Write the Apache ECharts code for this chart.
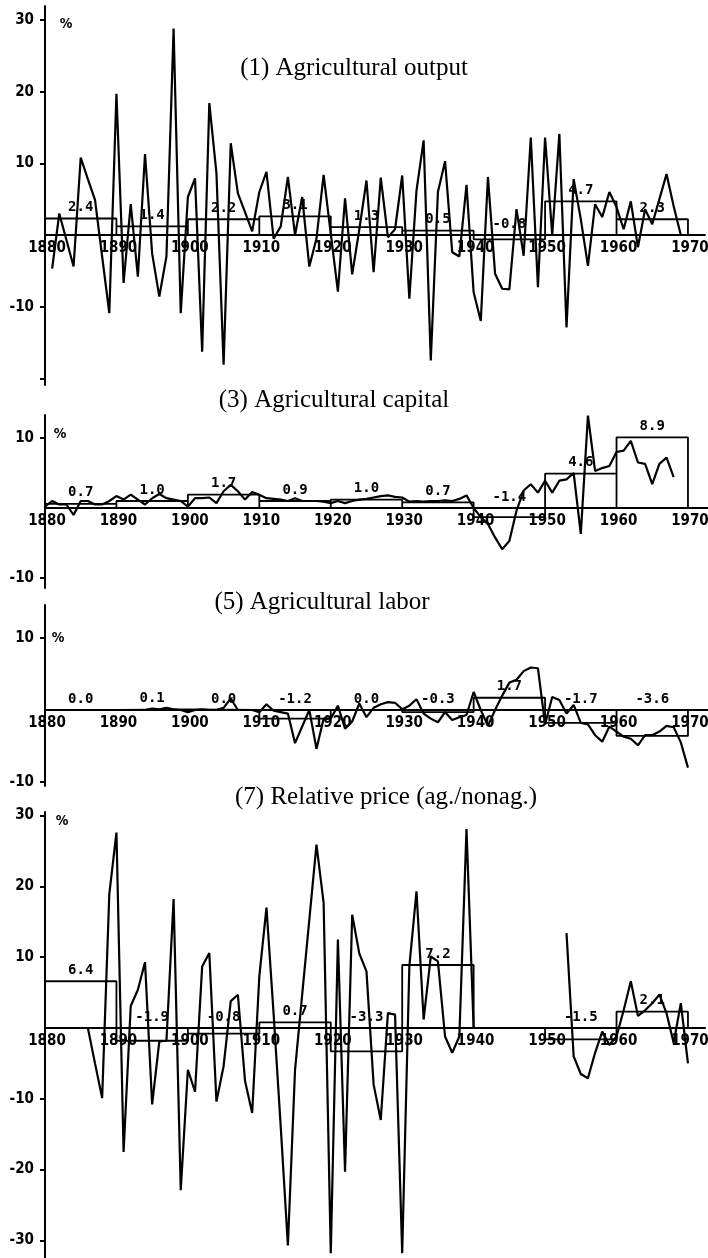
<!DOCTYPE html>
<html>
<head>
<meta charset="utf-8">
<script src="https://cdn.jsdelivr.net/npm/echarts@6/dist/echarts.min.js"></script>
<style>
  html, body { margin: 0; padding: 0; background: #fff; }
  #chart { width: 708px; height: 1258px; }
</style>
</head>
<body>
<div id="chart"></div>
<script>
// ---------------- DATA ----------------
const panelTitles = ['(1) Agricultural output', '(3) Agricultural capital', '(5) Agricultural labor', '(7) Relative price (ag./nonag.)'];
const xTickLabels = [1880, 1890, 1900, 1910, 1920, 1930, 1940, 1950, 1960, 1970];
const decadeStarts = [1880, 1890, 1900, 1910, 1920, 1930, 1940, 1950, 1960];

// (1) Agricultural output, annual growth rate %, from 1881
const outputStart = 1881;
const outputValues = [
  -4.7, 3.0, -0.7, -4.4, 10.8, 7.8, 4.9, -3.0, -10.9,          // 1881-1889
  19.7, -6.7, 4.3, -5.8, 11.3, -2.6, -8.6, -3.0, 28.8, -10.9,  // 1890-1899
  5.3, 7.9, -16.3, 18.4, 8.6, -18.1, 12.8, 5.8, 3.2, 0.5,      // 1900-1909
  6.0, 8.8, -0.5, 1.2, 8.1, 0.0, 5.3, -4.4, -0.5, 8.4,         // 1910-1919
  0.2, -7.9, 5.1, -5.5, 0.8, 7.6, -5.2, 8.0, -0.3, 0.8,        // 1920-1929
  8.3, -8.9, 6.2, 13.2, -17.5, 6.0, 10.3, -2.4, -3.0, 7.0,     // 1930-1939
  -8.0, -12.0, 8.1, -5.4, -7.5, -7.6, 3.6, -2.9, 13.6, -7.3,   // 1940-1949
  13.6, 0.0, 14.1, -12.9, 7.8, 2.2, -4.3, 4.3, 2.5, 6.0,       // 1950-1959
  3.9, 0.8, 4.7, -1.7, 3.6, 1.5, 5.0, 8.5, 4.0, 0.0            // 1960-1969
];
const outputBoxHeights = [2.3, 1.2, 2.2, 2.6, 1.1, 0.6, -0.6, 4.7, 2.2];
const outputBoxLabels = ['2.4', '1.4', '2.2', '3.1', '1.3', '0.5', '-0.8', '4.7', '2.3'];
const outputYTicks = [-20, -10, 10, 20, 30];
const outputYLabels = [-10, 10, 20, 30];

// (3) Agricultural capital, from 1880
const capitalStart = 1880;
const capitalValues = [
  0.2, 1.0, 0.5, 0.5, -1.0, 1.0, 1.0, 0.5, 0.5, 1.0,           // 1880-1889
  1.7, 1.2, 1.9, 1.2, 0.5, 1.4, 2.0, 1.4, 1.2, 1.0,            // 1890-1899
  0.2, 1.4, 1.4, 1.5, 0.7, 2.4, 3.3, 2.4, 1.2, 2.3,            // 1900-1909
  1.9, 1.4, 1.3, 1.2, 1.0, 1.4, 1.0, 1.0, 1.0, 0.9,            // 1910-1919
  0.7, 1.0, 0.7, 1.0, 1.2, 1.3, 1.5, 1.7, 1.8, 1.6,            // 1920-1929
  1.5, 0.9, 1.0, 0.9, 1.0, 1.0, 1.1, 1.0, 1.3, 1.8,            // 1930-1939
  0.0, -1.3, -2.3, -4.2, -5.9, -4.7, -0.4, 2.5, 3.4, 2.2,      // 1940-1949
  3.9, 2.2, 3.9, 4.1, 5.0, -3.7, 13.2, 5.3, 5.7, 6.0,          // 1950-1959
  8.0, 8.2, 9.6, 6.5, 6.3, 3.4, 6.3, 7.2, 4.4                  // 1960-1968
];
const capitalBoxHeights = [0.6, 1.0, 1.9, 1.0, 1.2, 0.8, -1.3, 4.9, 10.1];
const capitalBoxLabels = ['0.7', '1.0', '1.7', '0.9', '1.0', '0.7', '-1.4', '4.6', '8.9'];
const capitalYTicks = [-10, 10];
const capitalYLabels = [-10, 10];

// (5) Agricultural labor, from 1880
const laborStart = 1880;
const laborValues = [
  0.0, 0.0, 0.0, 0.0, 0.0, 0.0, 0.0, 0.0, 0.0, 0.0,            // 1880-1889
  0.0, 0.0, 0.0, 0.0, 0.0, 0.2, 0.1, 0.3, 0.1, 0.0,            // 1890-1899
  -0.3, 0.0, 0.1, 0.0, 0.0, 0.3, 1.6, 0.0, 0.0, 0.0,           // 1900-1909
  -0.3, 0.8, -0.1, -0.3, -0.5, -4.6, -2.3, 0.0, -5.4, -1.2,    // 1910-1919
  -1.2, 0.6, -2.6, -1.6, 0.9, -1.0, 0.3, 0.8, 1.1, 1.0,        // 1920-1929
  0.1, 0.6, 1.5, -0.5, -1.2, -1.7, -0.3, -1.4, -1.0, -0.7,     // 1930-1939
  2.5, 0.0, -2.2, 0.0, 2.0, 3.8, 4.2, 5.4, 5.9, 5.8,           // 1940-1949
  -2.0, 1.8, 1.4, -0.5, 0.7, -1.8, -2.0, -3.5, -4.4, -2.3,     // 1950-1959
  -3.0, -3.7, -4.0, -4.9, -3.5, -3.5, -3.0, -2.2, -2.4, -4.5,  // 1960-1969
  -8.0                                                          // 1970
];
const laborBoxHeights = [0.0, 0.1, 0.0, -1.2, 0.0, -0.3, 1.7, -1.8, -3.6];
const laborBoxLabels = ['0.0', '0.1', '0.0', '-1.2', '0.0', '-0.3', '1.7', '-1.7', '-3.6'];
const laborYTicks = [-10, 10];
const laborYLabels = [-10, 10];

// (7) Relative price (ag./nonag.), from 1886 (no data 1941-1952)
const priceStart = 1886;
const priceValues = [
  0.0, -5.0, -9.9, 18.9,                                       // 1886-1889
  27.6, -17.5, 3.1, 5.4, 9.3, -10.8, -1.9, -1.8, 18.2, -22.9,  // 1890-1899
  -5.9, -9.0, 8.7, 10.6, -10.4, -5.4, 3.8, 4.7, -7.5, -12.0,   // 1900-1909
  7.3, 17.0, 2.0, -14.0, -30.7, -5.9, 4.7, 15.3, 25.9, 17.7,   // 1910-1919
  -31.8, 12.5, -20.3, 16.0, 10.5, 8.0, -8.0, -13.0, 2.1, 1.9,  // 1920-1929
  -31.8, 8.7, 19.3, 1.2, 10.1, 9.4, -1.2, -3.5, -1.2, 28.1,    // 1930-1939
  0.0, null, null, null, null, null, null, null, null, null,   // 1940-1949
  null, null, null, 13.4, -4.0, -6.5, -7.1, -3.5, -0.5, -2.4,  // 1950-1959
  -1.2, 2.5, 6.6, 1.7, 2.5, 3.5, 4.7, 2.1, -2.1, 3.5,          // 1960-1969
  -5.0                                                          // 1970
];
const priceBoxHeights = [6.6, -1.8, -0.8, 0.8, -3.3, 8.9, null, -1.6, 2.3];
const priceBoxLabels = ['6.4', '-1.9', '-0.8', '0.7', '-3.3', '7.2', null, '-1.5', '2.1'];
const priceYTicks = [-30, -20, -10, 10, 20, 30];
const priceYLabels = [-30, -20, -10, 10, 20, 30];

// ---------------- LAYOUT / STYLE ----------------
const PLOT_LEFT = 45;
const PX_PER_YEAR = 7.144;
const layouts = [
  { top: 6,   bottom: 385,  zeroY: 235,  ppu: 7.167, right: 705, titleX: 354, titleY: 68,  pctX: 66, pctY: 24 },
  { top: 415, bottom: 588,  zeroY: 508,  ppu: 7.0,   right: 708, titleX: 334, titleY: 400, pctX: 60, pctY: 434 },
  { top: 605, bottom: 786,  zeroY: 710,  ppu: 7.2,   right: 708, titleX: 322, titleY: 602, pctX: 58, pctY: 638 },
  { top: 812, bottom: 1258, zeroY: 1028, ppu: 7.08,  right: 705, titleX: 386, titleY: 797, pctX: 62, pctY: 821 }
];
const AXIS_FONT = '"Liberation Sans Narrow", "DejaVu Sans Condensed", "Arial Narrow", sans-serif';
const XLABEL_FONT = 'bold 15px ' + AXIS_FONT;
const BOX_FONT = 'bold 14px "DejaVu Sans Mono", "Liberation Mono", monospace';
const TITLE_FONT = '25px "Liberation Serif", "DejaVu Serif", serif';

const panels = [
  { start: outputStart, values: outputValues, box: outputBoxHeights, labels: outputBoxLabels, yTicks: outputYTicks, yLabels: outputYLabels },
  { start: capitalStart, values: capitalValues, box: capitalBoxHeights, labels: capitalBoxLabels, yTicks: capitalYTicks, yLabels: capitalYLabels },
  { start: laborStart, values: laborValues, box: laborBoxHeights, labels: laborBoxLabels, yTicks: laborYTicks, yLabels: laborYLabels },
  { start: priceStart, values: priceValues, box: priceBoxHeights, labels: priceBoxLabels, yTicks: priceYTicks, yLabels: priceYLabels }
];

const grid = [], xAxis = [], yAxis = [], series = [], graphic = [];

panels.forEach((p, i) => {
  const L = layouts[i];
  const width = L.right - PLOT_LEFT;
  grid.push({ left: PLOT_LEFT, top: L.top, width: width, height: L.bottom - L.top, containLabel: false, outerBoundsMode: 'none' });
  xAxis.push({
    gridIndex: i, type: 'value', min: 1880, max: 1880 + width / PX_PER_YEAR,
    axisLine: { show: true, onZero: true, lineStyle: { color: '#000', width: 2 } },
    axisTick: { show: false },
    splitLine: { show: false },
    axisLabel: { show: false }
  });
  yAxis.push({
    gridIndex: i, type: 'value',
    min: -(L.bottom - L.zeroY) / L.ppu, max: (L.zeroY - L.top) / L.ppu,
    axisLine: { show: true, onZero: false, lineStyle: { color: '#000', width: 2 } },
    axisTick: { show: true, customValues: p.yTicks, length: 5, lineStyle: { color: '#000', width: 2 } },
    splitLine: { show: false },
    axisLabel: {
      customValues: p.yLabels, margin: 11, color: '#000',
      fontFamily: AXIS_FONT, fontWeight: 'bold', fontSize: 15,
      formatter: v => String(v)
    }
  });

  // annual series
  const lineData = p.values.map((v, k) => [p.start + k, v === null ? '-' : v]);
  series.push({
    type: 'line', xAxisIndex: i, yAxisIndex: i, data: lineData,
    symbol: 'none', connectNulls: false, silent: true,
    lineStyle: { color: '#000', width: 2.2 }, z: 3
  });

  // decade boxes
  const boxData = [];
  decadeStarts.forEach((s, k) => {
    const h = p.box[k];
    if (h === null) { boxData.push(['-', '-']); return; }
    boxData.push([s, 0], [s, h], [s + 10, h], [s + 10, 0]);
  });
  series.push({
    type: 'line', xAxisIndex: i, yAxisIndex: i, data: boxData,
    symbol: 'none', connectNulls: false, silent: true,
    lineStyle: { color: '#000', width: 1.8 }, z: 2
  });

  // decade average labels
  const labelData = [];
  decadeStarts.forEach((s, k) => {
    if (p.labels[k] === null) return;
    labelData.push({ value: [s + 5, Math.max(p.box[k], 0)], name: p.labels[k] });
  });
  series.push({
    type: 'custom', xAxisIndex: i, yAxisIndex: i, data: labelData, silent: true, z: 4,
    renderItem: (params, api) => {
      const pt = api.coord([api.value(0), api.value(1)]);
      const txt = labelData[params.dataIndex].name;
      return {
        type: 'text', x: pt[0], y: pt[1] - 4,
        style: { text: txt, font: BOX_FONT, fill: '#000', align: 'center', verticalAlign: 'bottom', textAlign: 'center', textVerticalAlign: 'bottom' }
      };
    }
  });

  // year labels sitting just under the zero line
  const yearData = xTickLabels.map(yr => [yr, 0]);
  series.push({
    type: 'custom', xAxisIndex: i, yAxisIndex: i, data: yearData, silent: true, z: 5,
    renderItem: (params, api) => {
      const pt = api.coord([api.value(0), api.value(1)]);
      return {
        type: 'text', x: pt[0] + 2, y: pt[1] + 6,
        style: { text: String(api.value(0)), font: XLABEL_FONT, fill: '#000', align: 'center', verticalAlign: 'top', textAlign: 'center', textVerticalAlign: 'top' }
      };
    }
  });

  graphic.push({
    type: 'text', x: L.titleX, y: L.titleY, silent: true,
    style: { text: panelTitles[i], font: TITLE_FONT, fill: '#000', align: 'center', verticalAlign: 'middle', textAlign: 'center', textVerticalAlign: 'middle' }
  });
  graphic.push({
    type: 'text', x: L.pctX, y: L.pctY, silent: true,
    style: { text: '%', font: 'bold 14px ' + AXIS_FONT, fill: '#000', align: 'center', verticalAlign: 'middle', textAlign: 'center', textVerticalAlign: 'middle' }
  });
});

const chart = echarts.init(document.getElementById('chart'), null, { renderer: 'canvas' });
chart.setOption({
  backgroundColor: '#fff',
  animation: false,
  grid, xAxis, yAxis, series, graphic
});
</script>
</body>
</html>
